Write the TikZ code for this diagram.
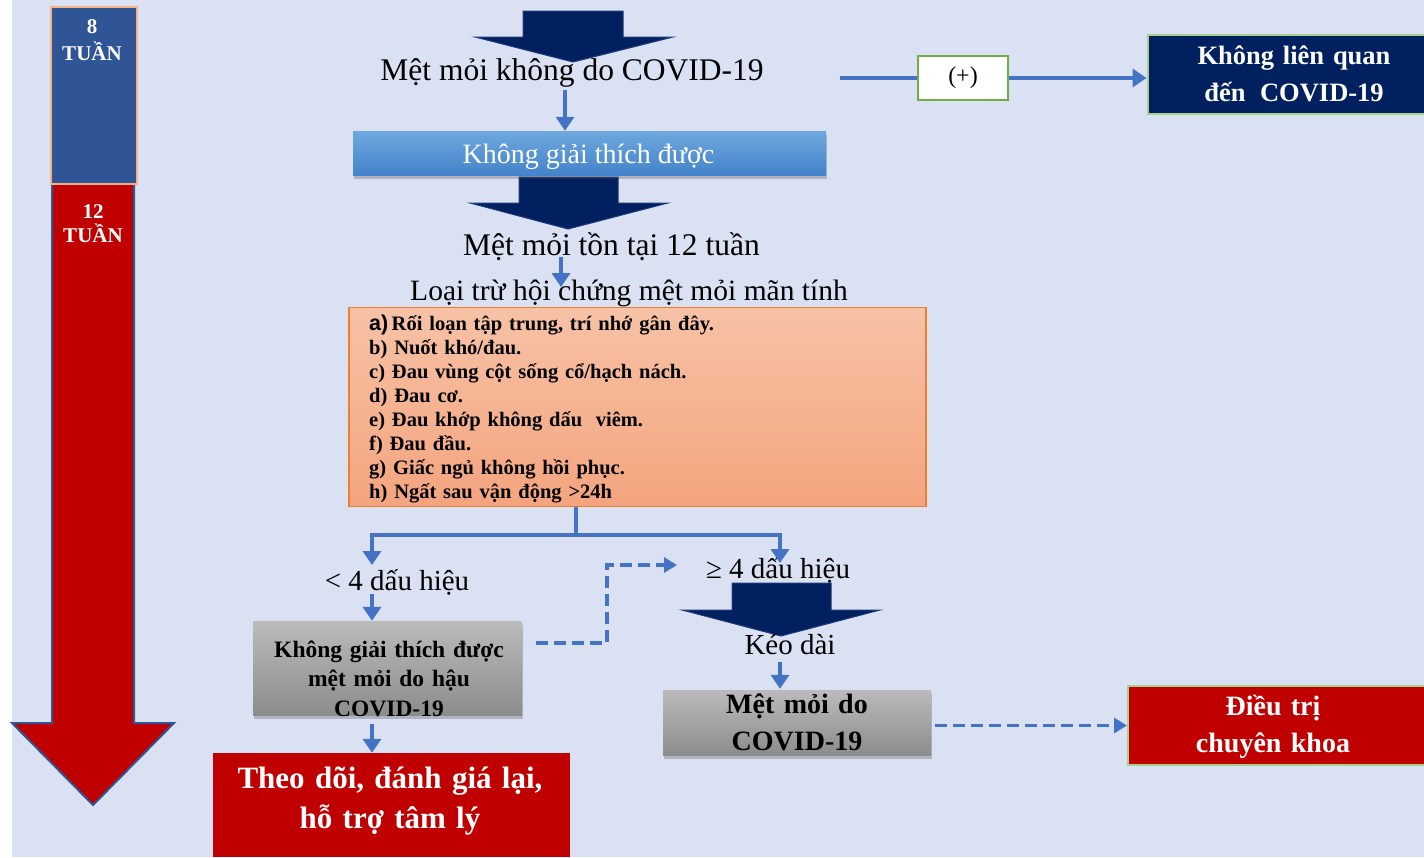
\documentclass[tikz,border=0pt]{standalone}
\usepackage{fontspec}
\setmainfont{Liberation Serif}
\newfontfamily\sansfam{Liberation Sans}
\usetikzlibrary{arrows.meta,shadows,calc}

\definecolor{bgblue}{HTML}{DAE1F3}
\definecolor{navy}{HTML}{002060}
\definecolor{navyedge}{HTML}{1F3A78}
\definecolor{tlblue}{HTML}{2F5597}
\definecolor{peach}{HTML}{F4B183}
\definecolor{darkred}{HTML}{C00000}
\definecolor{connblue}{HTML}{4472C4}
\definecolor{orangeedge}{HTML}{ED7D31}
\definecolor{orangetop}{HTML}{F7C2A6}
\definecolor{orangebot}{HTML}{F4A47E}
\definecolor{greenedge}{HTML}{70AD47}
\definecolor{lightgreen}{HTML}{A9D18E}
\definecolor{bluetop}{HTML}{6EA8DE}
\definecolor{bluebot}{HTML}{4483CB}
\definecolor{grtop}{HTML}{BBBBBB}
\definecolor{grbot}{HTML}{8C8C8C}

\tikzset{
  conn/.style={draw=connblue, line width=4pt, line join=miter,
    -{Triangle[width=18pt,length=14pt]}},
  link/.style={draw=connblue, line width=4pt},
  dashlink/.style={draw=connblue, line width=3.5pt, dash pattern=on 12pt off 6pt,
    -{Triangle[width=15pt,length=13pt]}},
  bigarrow/.style={fill=navy, draw=navyedge, line width=1pt},
  lbl/.style={anchor=base, inner sep=0pt},
  mlbl/.style={anchor=base, inner sep=0pt, align=center},
  boxshadow/.style={drop shadow={shadow xshift=1pt, shadow yshift=-4pt,
    opacity=0.3, fill=black!70}},
  plainbox/.style={rectangle, inner sep=0pt},
}

\begin{document}
\begin{tikzpicture}[x=1pt,y=-1pt]
  % canvas
  \fill[white] (0,0) rectangle (1424,857);
  \fill[bgblue] (12,0) rectangle (1424,857);
  \useasboundingbox (0,0) rectangle (1424,857);

  % time line on the left
  \filldraw[fill=darkred, draw=tlblue, line width=2pt, line join=miter]
    (52,182) -- (52,723) -- (12,723) -- (93,805) -- (174,723) -- (134,723) -- (134,182) -- cycle;
  \node[plainbox, fill=tlblue, draw=peach, line width=2pt,
        minimum width=86pt, minimum height=177pt] (w8) at (93.5,95.5) {};
  \node[mlbl, text width=80pt, text=white, font=\bfseries\fontsize{21}{27.7}\selectfont]
    (w8t) at (92,33) {8\\TUẦN};
  \node[mlbl, text width=80pt, text=white, font=\bfseries\fontsize{21}{24.4}\selectfont]
    (w12t) at (93,218) {12\\TUẦN};

  % broad navy arrows
  \filldraw[bigarrow] (523,11) -- (623,11) -- (623,37) -- (673,37) -- (573,62) -- (475,37) -- (523,37) -- cycle;
  \filldraw[bigarrow] (519,177) -- (618,177) -- (618,203) -- (668,203) -- (568,229) -- (470,203) -- (519,203) -- cycle;
  \filldraw[bigarrow] (732,583) -- (831,583) -- (831,610) -- (880,610) -- (781,636) -- (682,610) -- (732,610) -- cycle;

  % main column
  \node[lbl, font=\fontsize{31.5}{36}\selectfont] (t1) at (572,80) {Mệt mỏi không do COVID-19};
  \node[plainbox, minimum width=473pt, minimum height=44pt, boxshadow,
        top color=bluetop, bottom color=bluebot] (b1) at (589.5,153) {};
  \node[lbl, text=white, font=\fontsize{28}{32}\selectfont] (b1t) at (588.5,163) {Không giải thích được};
  \node[lbl, font=\fontsize{31.5}{36}\selectfont] (t2) at (611.5,255) {Mệt mỏi tồn tại 12 tuần};
  \node[lbl, font=\fontsize{29.5}{34}\selectfont] (t3) at (629,300) {Loại trừ hội chứng mệt mỏi mãn tính};

  % criteria box
  \node[plainbox, minimum width=577pt, minimum height=199pt, draw=orangeedge, line width=1.5pt,
        top color=orangetop, bottom color=orangebot] (obox) at (637.5,407) {};
  \node[anchor=base west, inner sep=0pt, text width=540pt, align=left,
        font=\bfseries\fontsize{20.5}{24}\selectfont] (items) at (369,330)
    {{\sansfam\fontsize{21.5}{24}\selectfont a)}\,Rối loạn tập trung, trí nhớ gân đây.\\
     b) Nuốt khó/đau.\\
     c) Đau vùng cột sống cổ/hạch nách.\\
     d) Đau cơ.\\
     e) Đau khớp không dấu\ \ viêm.\\
     f) Đau đầu.\\
     g) Giấc ngủ không hồi phục.\\
     h) Ngất sau vận động >24h};

  % branch labels
  \node[lbl, font=\fontsize{29}{34}\selectfont] (lt) at (397,590) {< 4 dấu hiệu};
  \node[lbl, font=\fontsize{29}{34}\selectfont] (ge4) at (778,578) {≥ 4 dấu hiệu};
  \node[lbl, font=\fontsize{29}{34}\selectfont] (ko) at (790,654) {Kéo dài};

  % grey outcome boxes
  \node[plainbox, minimum width=269pt, minimum height=94pt, boxshadow,
        top color=grtop, bottom color=grbot] (g1) at (387.5,668) {};
  \node[mlbl, text width=260pt, font=\bfseries\fontsize{23.5}{29.5}\selectfont]
    (g1t) at (389,657) {Không giải thích được\\mệt mỏi do hậu\\COVID-19};
  \node[plainbox, minimum width=268pt, minimum height=65pt, boxshadow,
        top color=grtop, bottom color=grbot] (g2) at (797,722.5) {};
  \node[mlbl, text width=260pt, font=\bfseries\fontsize{28}{37}\selectfont]
    (g2t) at (797,713) {Mệt mỏi do\\COVID-19};

  % red result boxes
  \node[plainbox, fill=darkred, minimum width=357pt, minimum height=104pt] (r1) at (391.5,805) {};
  \node[mlbl, text width=350pt, text=white, font=\bfseries\fontsize{31}{40}\selectfont]
    (r1t) at (390,788) {Theo dõi, đánh giá lại,\\hỗ trợ tâm lý};
  \node[plainbox, fill=darkred, draw=lightgreen, line width=2pt,
        minimum width=298pt, minimum height=79pt] (r2) at (1277,725.5) {};
  \node[mlbl, text width=280pt, text=white, font=\bfseries\fontsize{28}{37}\selectfont]
    (r2t) at (1273,715) {Điều trị\\chuyên khoa};

  % top right branch
  \node[plainbox, fill=white, draw=greenedge, line width=2.5pt,
        minimum width=90pt, minimum height=44pt, font=\fontsize{24}{28}\selectfont] (p1) at (963,78) {(+)};
  \node[plainbox, fill=navy, draw=lightgreen, line width=2pt,
        minimum width=279pt, minimum height=79pt] (n1) at (1287,74.5) {};
  \node[mlbl, text width=270pt, text=white, font=\bfseries\fontsize{26.5}{37}\selectfont]
    (n1t) at (1294,64) {Không liên quan\\đến\hspace{0.55em}COVID-19};
  \coordinate (s0) at (840,78);

  % connectors
  \draw[conn] ($(t1.base)+(-7,10)$) -- ($(b1.north)+(-24.5,0)$);
  \draw[conn] ($(t2.base)+(-50.5,2)$) -- ($(t3.base)+(-68,-13)$);
  \draw[link] ($(obox.south)+(-61.5,0)$) -- ($(obox.south)+(-61.5,28)$) coordinate (jm);
  \draw[conn] (jm) -| ($(lt.base)+(-25,-25)$);
  \draw[conn] (jm) -| ($(ge4.base)+(2,-15)$);
  \draw[conn] ($(g1.north)+(-15.5,-27)$) -- ($(g1.north)+(-15.5,0)$);
  \draw[conn] ($(g1.south)+(-15.5,9)$) -- ($(r1.north)+(-19.5,0)$);
  \draw[conn] ($(g2.north)+(-17,-28)$) -- ($(g2.north)+(-17,-1)$);
  \draw[dashlink] ($(g1.east)+(14,-25)$) -| ($(ge4.base)+(-171,-13)$) -- ($(ge4.base)+(-101,-13)$);
  \draw[dashlink] ($(r2.west -| g2.east)+(4,0)$) -- (r2.west);
  \draw[link] (s0) -- (p1.west);
  \draw[conn] (p1.east) -- (p1.east -| n1.west);
\end{tikzpicture}
\end{document}
